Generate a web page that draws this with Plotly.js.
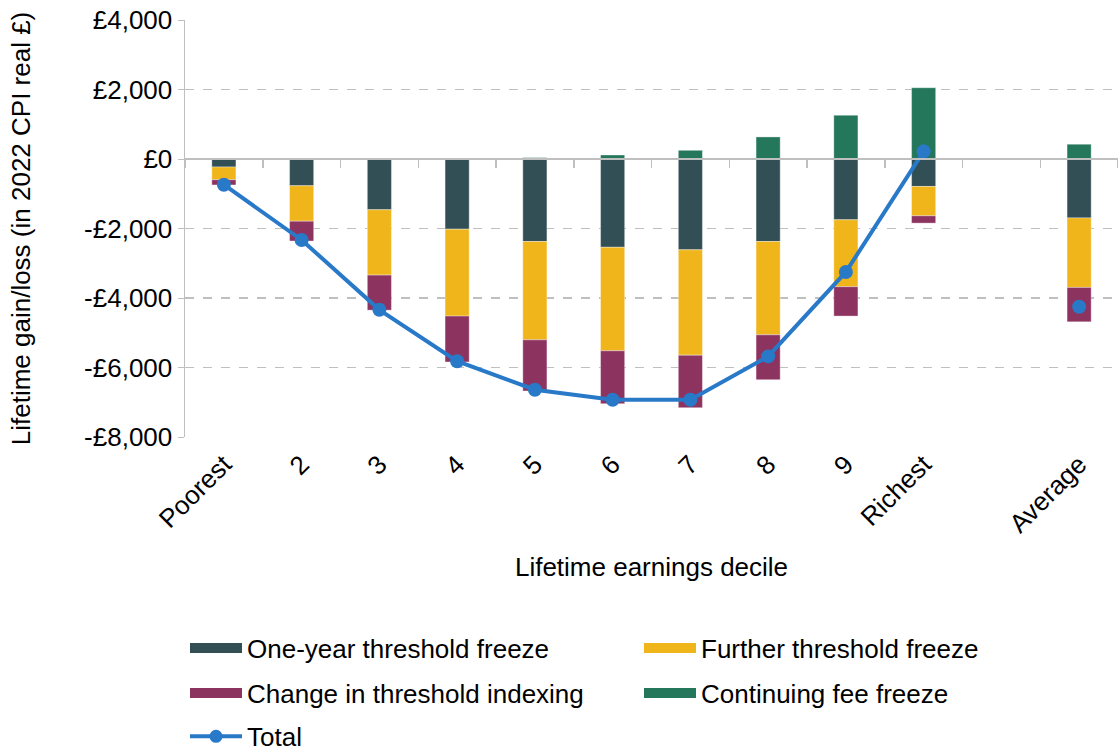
<!DOCTYPE html>
<html>
<head>
<meta charset="utf-8">
<script src="https://cdn.plot.ly/plotly-3.0.1.min.js"></script>
<style>html,body{margin:0;padding:0;background:#fff;}#chart{width:1118px;height:754px;}</style>
</head>
<body>
<div id="chart"></div>
<script>
const categories = ["Poorest", "2", "3", "4", "5", "6", "7", "8", "9", "Richest", " ", "Average"];
const oneYearFreeze = [-230, -770, -1460, -2020, -2375, -2540, -2615, -2375, -1750, -790, null, -1695];
const furtherFreeze = [-367, -1020, -1880, -2500, -2830, -2980, -3030, -2685, -1925, -845, null, -2000];
const indexingChange = [-150, -570, -1010, -1320, -1470, -1520, -1510, -1290, -845, -210, null, -990];
const feeFreeze = [0, 0, 0, 20, 40, 115, 250, 635, 1260, 2050, null, 425];
const total = [-740, -2330, -4340, -5820, -6640, -6930, -6930, -5680, -3250, 220, null, -4250];
const yTickVals = [-8000, -6000, -4000, -2000, 0, 2000, 4000];
const yTickText = ["-£8,000", "-£6,000", "-£4,000", "-£2,000", "£0", "£2,000", "£4,000"];
const seriesNames = ["One-year threshold freeze", "Further threshold freeze", "Change in threshold indexing", "Continuing fee freeze", "Total"];

const font = "Liberation Sans, Arial, sans-serif";
const FS = 26;
const colors = ["#324F55", "#EFB51A", "#8D3360", "#24775A"];
const lineColor = "#2979C9";
const edge = {color: "rgba(255,255,255,0.6)", width: 0.6};
const values = [oneYearFreeze, furtherFreeze, indexingChange, feeFreeze];
const legendIds = ["legend", "legend", "legend2", "legend2"];

const traces = [];
values.forEach((v, i) => {
  traces.push({type: "bar", name: seriesNames[i], x: categories, y: v,
    marker: {color: colors[i], line: edge}, showlegend: false});
});
traces.push({type: "scatter", mode: "lines+markers", name: seriesNames[4], x: categories, y: total,
  line: {color: lineColor, width: 4}, marker: {color: lineColor, size: 14},
  connectgaps: false, showlegend: false});
// legend swatches (wide rectangles as in the reference)
values.forEach((v, i) => {
  traces.push({type: "scatter", mode: "lines", name: seriesNames[i], x: [null], y: [null],
    line: {color: colors[i], width: 14}, legend: legendIds[i], showlegend: true});
});
traces.push({type: "scatter", mode: "lines+markers", name: seriesNames[4], x: [null], y: [null],
  line: {color: lineColor, width: 4}, marker: {color: lineColor, size: 13},
  legend: "legend3", showlegend: true});
// zero line with boundary ticks
traces.push({type: "scatter", mode: "markers", x: categories, y: categories.map(() => null),
  xaxis: "x2", showlegend: false, hoverinfo: "skip"});

function leg(y) {
  return {orientation: "h", x: 0, xanchor: "left", y: y, yanchor: "middle",
    entrywidth: 387, entrywidthmode: "pixels", itemwidth: 52,
    traceorder: "normal", bgcolor: "rgba(0,0,0,0)",
    font: {family: font, size: FS, color: "#000"}};
}

const layout = {
  width: 1118, height: 754,
  margin: {l: 185, r: 0, t: 20, b: 317, autoexpand: false},
  paper_bgcolor: "#fff", plot_bgcolor: "#fff",
  font: {family: font, size: FS, color: "#000"},
  barmode: "relative",
  bargap: 0.69,
  showlegend: true,
  xaxis: {
    type: "category", categoryorder: "array", categoryarray: categories,
    range: [-0.5, 11.5], automargin: false,
    tickangle: -45, ticks: "", ticklabelstandoff: 6, showgrid: false, showline: false, zeroline: false,
    tickfont: {family: font, size: FS, color: "#000"},
    title: {text: "Lifetime earnings decile", font: {family: font, size: FS, color: "#000"}, standoff: 20}
  },
  xaxis2: {
    type: "category", categoryorder: "array", categoryarray: categories,
    range: [-0.5, 11.5], overlaying: "x", anchor: "free", position: 2/3,
    ticks: "outside", tickson: "boundaries", ticklen: 8, tickcolor: "#BFBFBF", tickwidth: 1.5,
    showticklabels: false, showgrid: false, showline: true, linecolor: "#BFBFBF", linewidth: 2, zeroline: false
  },
  yaxis: {
    range: [-8000, 4000], tickvals: yTickVals, ticktext: yTickText, automargin: false,
    showgrid: true, gridcolor: "#BFBFBF", griddash: "dash", gridwidth: 1.5,
    zeroline: false,
    showline: true, linecolor: "#BFBFBF", linewidth: 1.5,
    ticks: "outside", ticklen: 6, tickcolor: "#BFBFBF",
    tickfont: {family: font, size: FS, color: "#000"},
    title: {text: "Lifetime gain/loss (in 2022 CPI real £)", font: {family: font, size: FS, color: "#000"}, standoff: 46}
  },
  legend: leg(-0.506),
  legend2: leg(-0.614),
  legend3: leg(-0.718)
};

Plotly.newPlot("chart", traces, layout, {displayModeBar: false, staticPlot: true});
</script>
</body>
</html>
